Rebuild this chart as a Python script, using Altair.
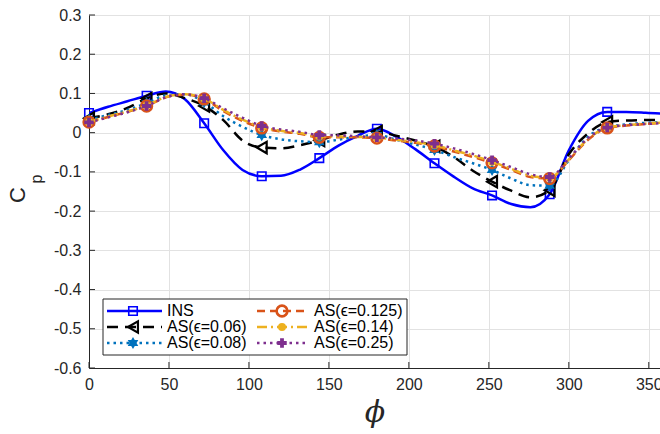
import altair as alt
import pandas as pd

# ---------------- data ----------------
PHI = list(range(0, 361, 12))

INS = [0.050, 0.066, 0.080, 0.094, 0.105, 0.085, 0.024, -0.045, -0.095, -0.111,
       -0.110, -0.094, -0.065, -0.033, -0.008, 0.010, -0.010, -0.042, -0.078, -0.112,
       -0.142, -0.160, -0.182, -0.190, -0.157, -0.045, 0.030, 0.053, 0.053, 0.051, 0.048]
AS006 = [0.037, 0.047, 0.063, 0.087, 0.100, 0.088, 0.068, 0.032, -0.020, -0.038,
         -0.040, -0.032, -0.020, -0.005, 0.003, 0.003, -0.008, -0.020, -0.035, -0.062,
         -0.097, -0.125, -0.148, -0.165, -0.147, -0.055, -0.002, 0.027, 0.031, 0.032, 0.032]
AS008 = [0.033, 0.045, 0.058, 0.075, 0.095, 0.098, 0.078, 0.042, 0.015, -0.006,
         -0.017, -0.022, -0.024, -0.018, -0.010, -0.006, -0.018, -0.030, -0.044, -0.062,
         -0.078, -0.095, -0.117, -0.134, -0.135, -0.070, -0.010, 0.014, 0.021, 0.025, 0.027]
AS0125 = [0.027, 0.040, 0.053, 0.068, 0.090, 0.097, 0.086, 0.055, 0.030, 0.012,
          0.003, -0.003, -0.012, -0.012, -0.012, -0.014, -0.020, -0.026, -0.034, -0.048,
          -0.062, -0.077, -0.095, -0.113, -0.117, -0.070, -0.018, 0.012, 0.018, 0.022, 0.025]
AS014 = [0.027, 0.041, 0.054, 0.069, 0.091, 0.098, 0.087, 0.058, 0.033, 0.014,
         0.005, -0.001, -0.010, -0.010, -0.011, -0.013, -0.018, -0.024, -0.032, -0.045,
         -0.058, -0.074, -0.092, -0.110, -0.115, -0.068, -0.016, 0.013, 0.019, 0.023, 0.026]
AS025 = [0.026, 0.039, 0.052, 0.068, 0.090, 0.098, 0.088, 0.062, 0.038, 0.017,
         0.008, 0.002, -0.006, -0.007, -0.009, -0.012, -0.015, -0.020, -0.028, -0.040,
         -0.054, -0.070, -0.088, -0.106, -0.113, -0.066, -0.014, 0.013, 0.019, 0.022, 0.025]

LABELS = ["INS", "AS(\u03f5=0.06)", "AS(\u03f5=0.08)",
          "AS(\u03f5=0.125)", "AS(\u03f5=0.14)", "AS(\u03f5=0.25)"]
X_TICKS = [0, 50, 100, 150, 200, 250, 300, 350]
Y_TICKS = [-0.6, -0.5, -0.4, -0.3, -0.2, -0.1, 0.0, 0.1, 0.2, 0.3]

# ---------------- styles ----------------
HEX = "M0,-1L0.866,0.5L-0.866,0.5Z M0,1L-0.866,-0.5L0.866,-0.5Z"
STYLES = [
    dict(vals=INS, color="#0000FF", dash=None, shape="square", filled=False, size=72, msw=1.6),
    dict(vals=AS006, color="#000000", dash=[11, 7], shape="triangle-left", filled=False, size=130, msw=2.2),
    dict(vals=AS008, color="#0072BD", dash=[2.5, 4], shape=HEX, filled=True, size=150, msw=1),
    dict(vals=AS0125, color="#D95319", dash=[8, 5], shape="circle", filled=False, size=115, msw=2.6),
    dict(vals=AS014, color="#EDB120", dash=[10, 4, 2, 4], shape="circle", filled=True, size=64, msw=1),
    dict(vals=AS025, color="#7E2F8E", dash=[2.5, 4], shape="cross", filled=True, size=90, msw=1),
]

AXC = "#262626"
FONT = "Liberation Sans"
W, H = 571, 353

xscale = alt.Scale(domain=[0, 357], nice=False, zero=False)
yscale = alt.Scale(domain=[-0.6, 0.3], nice=False, zero=False)
xaxis = alt.Axis(values=X_TICKS, title="", grid=True, gridColor="#e2e2e2", gridWidth=1,
                 ticks=False, labelPadding=8, labelFontSize=16, labelFont=FONT,
                 labelColor=AXC, domainColor=AXC, domainWidth=1, labelFlush=False)
yaxis = alt.Axis(values=Y_TICKS, title="", grid=True, gridColor="#e2e2e2", gridWidth=1,
                 ticks=False, labelPadding=8, labelFontSize=16, labelFont=FONT,
                 labelColor=AXC, domainColor=AXC, domainWidth=1,
                 labelExpr="(datum.value < -1e-9 ? '-' : '') + format(abs(datum.value), '.1~f')")

def X():
    return alt.X("phi:Q", scale=xscale, axis=xaxis)

def Y():
    return alt.Y("cp:Q", scale=yscale, axis=yaxis)

layers = []
# inward ticks
xt = pd.DataFrame({"phi": X_TICKS})
layers.append(alt.Chart(xt).mark_rule(color=AXC, strokeWidth=1).encode(
    x=X(), y=alt.value(H), y2=alt.value(H - 6)))
yt = pd.DataFrame({"cp": Y_TICKS})
layers.append(alt.Chart(yt).mark_rule(color=AXC, strokeWidth=1).encode(
    y=Y(), x=alt.value(0), x2=alt.value(6)))

for st in STYLES:
    df = pd.DataFrame({"phi": PHI, "cp": st["vals"]})
    lk = dict(color=st["color"], strokeWidth=2.5, clip=True, interpolate="monotone")
    if st["dash"]:
        lk["strokeDash"] = st["dash"]
    layers.append(alt.Chart(df).mark_line(**lk).encode(x=X(), y=Y()))
    pk = dict(shape=st["shape"], filled=st["filled"], size=st["size"], color=st["color"],
              strokeWidth=st["msw"], opacity=1)
    layers.append(alt.Chart(df).transform_filter(
        "datum.phi % 36 == 0 && datum.phi < 357").mark_point(**pk).encode(x=X(), y=Y()))

# ---------------- legend ----------------
one = pd.DataFrame({"a": [0]})
layers.append(alt.Chart(one).mark_rect(fill="white", stroke=AXC, strokeWidth=1).encode(
    x=alt.value(14), x2=alt.value(318), y=alt.value(284), y2=alt.value(340)))
rows_y = [296, 312, 328]
for i, st in enumerate(STYLES):
    col = i // 3
    yv = rows_y[i % 3]
    lx1, lx2, mx, tx = (18, 73, 44, 78) if col == 0 else (168, 219, 193, 225)
    rk = dict(color=st["color"], strokeWidth=2.5)
    if st["dash"]:
        rk["strokeDash"] = st["dash"]
    layers.append(alt.Chart(one).mark_rule(**rk).encode(
        x=alt.value(lx1), x2=alt.value(lx2), y=alt.value(yv)))
    pk = dict(shape=st["shape"], filled=st["filled"], size=st["size"], color=st["color"],
              strokeWidth=st["msw"], opacity=1)
    layers.append(alt.Chart(one).mark_point(**pk).encode(x=alt.value(mx), y=alt.value(yv)))
    layers.append(alt.Chart(one).mark_text(align="left", baseline="middle", fontSize=16,
                                           font=FONT, color="black").encode(
        x=alt.value(tx), y=alt.value(yv), text=alt.value(LABELS[i])))

# ---------------- axis titles ----------------
layers.append(alt.Chart(one).mark_text(angle=270, align="center", baseline="middle",
                                       fontSize=22, font=FONT, color=AXC).encode(
    x=alt.value(-71), y=alt.value(180), text=alt.value("C")))
layers.append(alt.Chart(one).mark_text(angle=270, align="center", baseline="middle",
                                       fontSize=16, font=FONT, color=AXC).encode(
    x=alt.value(-52), y=alt.value(164), text=alt.value("p")))
layers.append(alt.Chart(one).mark_text(align="center", baseline="middle", fontSize=30,
                                       font="DejaVu Serif", fontStyle="italic",
                                       color=AXC).encode(
    x=alt.value(286), y=alt.value(398), text=alt.value("\u03d5")))

chart = alt.layer(*layers).properties(
    width=W, height=H,
    padding={"left": 89, "top": 15, "right": 0, "bottom": 66},
    autosize=alt.AutoSizeParams(type="none"),
    background="white",
).configure_view(stroke="transparent")

chart.save("out.html", embed_options={"renderer": "svg", "actions": False})
